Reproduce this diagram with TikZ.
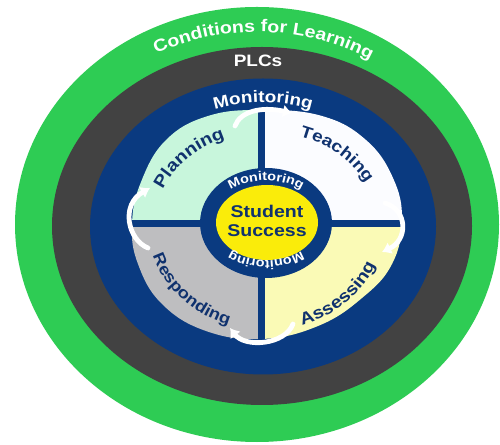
\documentclass[tikz,border=0pt]{standalone}
\usepackage{fontspec}
\setmainfont{Liberation Sans}[FakeStretch=1.15]
\usetikzlibrary{decorations.text,arrows.meta}
\definecolor{cgreen}{RGB}{46,204,84}
\definecolor{cdark}{RGB}{66,66,66}
\definecolor{cnavy}{RGB}{10,58,128}
\definecolor{ctext}{RGB}{16,50,110}
\definecolor{cmint}{RGB}{200,246,220}
\definecolor{cwhiteq}{RGB}{251,252,255}
\definecolor{cyelq}{RGB}{250,250,182}
\definecolor{cgrayq}{RGB}{190,190,192}
\definecolor{cyel}{RGB}{250,236,10}
\tikzset{
  warrow/.style={white, line width=4.8pt, line cap=round, -{Latex[length=9pt,width=13pt]}},
  sslabel/.style={font=\fontsize{17}{19.5}\selectfont\bfseries, text=ctext, align=center, inner sep=0pt},
  plclabel/.style={font=\fontsize{16.5}{16.5}\selectfont\bfseries, text=white, inner sep=0pt}
}
\begin{document}
\begin{tikzpicture}[x=1pt,y=1pt]
\useasboundingbox (0,0) rectangle (500,444);
\fill[white] (0,0) rectangle (500,444);
% rings
\fill[cgreen] (257,219.5) ellipse[x radius=242pt, y radius=217.5pt];
\fill[cdark] (262,218) ellipse[x radius=210pt, y radius=179pt];
\fill[cnavy] (263,217.5) ellipse[x radius=173pt, y radius=148pt];
% inner shape
\path[save path=\innerpath] plot[smooth cycle, tension=0.7] coordinates {
 (262,334) (322,328) (366,304) (393,266) (402,224) (392,180)
 (362,146) (318,118) (262,105) (206,113) (162,140) (138,180)
 (132,220) (141,262) (166,304) (208,328)};
\begin{scope}\clip (0,220) rectangle (261,444); \fill[cmint, use path=\innerpath]; \end{scope}
\begin{scope}\clip (261,220) rectangle (500,444); \fill[cwhiteq, use path=\innerpath]; \end{scope}
\begin{scope}\clip (261,0) rectangle (500,220); \fill[cyelq, use path=\innerpath]; \end{scope}
\begin{scope}\clip (0,0) rectangle (261,220); \fill[cgrayq, use path=\innerpath]; \end{scope}
% cross bars
\fill[cnavy] (257.5,100) rectangle (264.5,340);
\fill[cnavy] (128,217) rectangle (404,224);
% centre
\fill[cnavy] (266,221) ellipse[x radius=66pt, y radius=55pt];
\fill[cyel] (267,221.5) ellipse[x radius=51pt, y radius=37.5pt];
\node[sslabel] (ss) at (267,223) {Student\\Success};
% arrows
\coordinate (la) at (148,196); \coordinate (lb) at (150,256);
\coordinate (ta) at (235,318); \coordinate (tb) at (292,331);
\coordinate (ra) at (385,241); \coordinate (rb) at (382,192);
\coordinate (ba) at (293,120); \coordinate (bb) at (230,116);
\draw[warrow] (la) .. controls (128,204) and (120,239) .. (lb);
\draw[warrow] (ta) .. controls (240,332) and (260,338) .. (tb);
\draw[warrow] (ra) .. controls (408,234) and (408,204) .. (rb);
\draw[warrow] (ba) .. controls (285,99) and (245,96) .. (bb);
% outer texts
\path[decorate, decoration={text along path, text align=center,
  text={|\fontsize{17}{17}\selectfont\bfseries\color{white}|Conditions for Learning}}]
  (257,219.5) ++(150:218pt and 192.5pt) arc[start angle=150, end angle=26, x radius=218pt, y radius=192.5pt];
\node[plclabel, anchor=base] (plc) at (258,377) {PLCs};
\path[decorate, decoration={text along path, text align=center,
  text={|\fontsize{16.5}{16.5}\selectfont\bfseries\color{white}|Monitoring}}]
  (263,217.5) ++(150:148pt and 124pt) arc[start angle=150, end angle=30, x radius=148pt, y radius=124pt];
% quadrant labels
\path[decorate, decoration={text along path, text align=center,
  text={|\fontsize{17}{17}\selectfont\bfseries\color{ctext}|Planning}}]
  (266,218) ++(181:112pt and 94pt) arc[start angle=181, end angle=91, x radius=112pt, y radius=94pt];
\path[decorate, decoration={text along path, text align=center,
  text={|\fontsize{16.5}{16.5}\selectfont\bfseries\color{ctext}|Teaching}}]
  (266,218) ++(93:112pt and 94pt) arc[start angle=93, end angle=3, x radius=112pt, y radius=94pt];
\path[decorate, decoration={text along path, text align=center,
  text={|\fontsize{17}{17}\selectfont\bfseries\color{ctext}|Assessing}}]
  (266,218) ++(-91:118pt and 104pt) arc[start angle=-91, end angle=-1, x radius=118pt, y radius=104pt];
\path[decorate, decoration={text along path, text align=center,
  text={|\fontsize{16}{16}\selectfont\bfseries\color{ctext}|Responding}}]
  (266,218) ++(178:118pt and 104pt) arc[start angle=178, end angle=268, x radius=118pt, y radius=104pt];
% inner ring texts
\path[decorate, decoration={text along path, text align=center,
  text={|\fontsize{12.5}{12.5}\selectfont\bfseries\color{white}|Monitoring}}]
  (266,223.5) ++(170:55pt and 40pt) arc[start angle=170, end angle=10, x radius=55pt, y radius=40pt];
\path[decorate, decoration={text along path, text align=center,
  text={|\fontsize{12.5}{12.5}\selectfont\bfseries\color{white}|Monitoring}}]
  (266,223.5) ++(-10:55pt and 40pt) arc[start angle=-10, end angle=-170, x radius=55pt, y radius=40pt];
\end{tikzpicture}
\end{document}
